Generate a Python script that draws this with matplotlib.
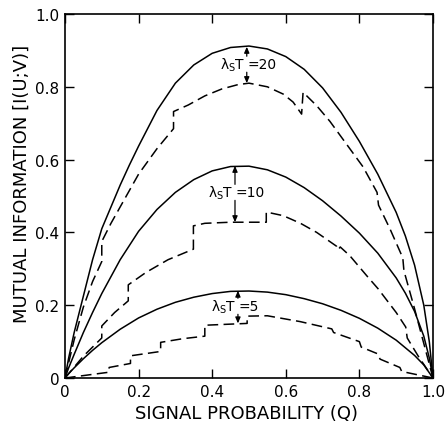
import matplotlib
matplotlib.use("Agg")
import matplotlib.pyplot as plt

# values
# lambda_S T = 20
q_s20 = [0, 0.01, 0.025, 0.05, 0.075, 0.1, 0.125, 0.15, 0.175, 0.2, 0.25, 0.3, 0.35, 0.4, 0.45, 0.5,
         0.55, 0.6, 0.65, 0.7, 0.75, 0.8, 0.85, 0.9, 0.925, 0.95, 0.975, 0.99, 1.0]
i_s20 = [0, 0.055, 0.125, 0.225, 0.325, 0.41, 0.47, 0.53, 0.585, 0.637, 0.735, 0.81, 0.86, 0.892, 0.908, 0.912,
         0.904, 0.883, 0.848, 0.797, 0.73, 0.65, 0.56, 0.455, 0.39, 0.31, 0.2, 0.1, 0]
q_d20 = [0, 0.025, 0.05, 0.075, 0.1, 0.1, 0.125, 0.15, 0.2, 0.25, 0.295, 0.295, 0.335, 0.38, 0.426,
         0.47, 0.5, 0.55, 0.593, 0.62, 0.643, 0.647, 0.684, 0.72, 0.774, 0.81, 0.848, 0.852, 0.883,
         0.918, 0.921, 0.95, 0.975, 1.0]
i_d20 = [0, 0.105, 0.195, 0.265, 0.32, 0.375, 0.425, 0.47, 0.56, 0.63, 0.685, 0.732, 0.75, 0.775, 0.794,
         0.806, 0.81, 0.80, 0.78, 0.758, 0.725, 0.785, 0.748, 0.705, 0.63, 0.58, 0.51, 0.475, 0.41,
         0.33, 0.295, 0.19, 0.095, 0]

# lambda_S T = 10
q_s10 = [0, 0.01, 0.025, 0.05, 0.075, 0.1, 0.15, 0.2, 0.25, 0.3, 0.35, 0.4, 0.45, 0.5, 0.55, 0.6,
         0.65, 0.7, 0.75, 0.8, 0.85, 0.9, 0.925, 0.95, 0.975, 0.99, 1.0]
i_s10 = [0, 0.028, 0.065, 0.125, 0.18, 0.232, 0.325, 0.403, 0.463, 0.51, 0.545, 0.569, 0.581, 0.582,
         0.572, 0.552, 0.523, 0.487, 0.445, 0.398, 0.343, 0.275, 0.233, 0.183, 0.115, 0.055, 0]
q_d10 = [0, 0.05, 0.1, 0.1, 0.135, 0.172, 0.172, 0.22, 0.28, 0.349, 0.349, 0.38, 0.45, 0.547, 0.547,
         0.593, 0.64, 0.684, 0.738, 0.742, 0.748, 0.774, 0.82, 0.851, 0.9, 0.926, 0.93, 0.96, 1.0]
i_d10 = [0, 0.06, 0.11, 0.143, 0.18, 0.212, 0.256, 0.29, 0.325, 0.354, 0.418, 0.425, 0.428, 0.428, 0.456,
         0.446, 0.425, 0.40, 0.362, 0.352, 0.36, 0.336, 0.281, 0.245, 0.18, 0.14, 0.11, 0.06, 0]

# lambda_S T = 5
q_s5 = [0, 0.01, 0.025, 0.05, 0.075, 0.1, 0.15, 0.2, 0.25, 0.3, 0.35, 0.4, 0.45, 0.5, 0.55, 0.6,
        0.65, 0.7, 0.75, 0.8, 0.85, 0.9, 0.95, 0.975, 1.0]
i_s5 = [0, 0.012, 0.028, 0.053, 0.076, 0.097, 0.134, 0.165, 0.189, 0.208, 0.222, 0.232, 0.238, 0.239,
        0.236, 0.229, 0.218, 0.204, 0.186, 0.164, 0.137, 0.104, 0.062, 0.036, 0]
q_d5 = [0, 0.06, 0.12, 0.12, 0.178, 0.178, 0.26, 0.26, 0.32, 0.38, 0.38, 0.495, 0.495, 0.55, 0.639,
        0.725, 0.73, 0.80, 0.805, 0.851, 0.856, 0.91, 0.915, 1.0]
i_d5 = [0, 0.008, 0.016, 0.029, 0.04, 0.061, 0.073, 0.098, 0.108, 0.115, 0.145, 0.15, 0.17, 0.171, 0.155,
        0.135, 0.125, 0.10, 0.085, 0.066, 0.052, 0.029, 0.018, 0]

# arrows between the two curves of each pair, and their labels
arrow_q = [0.494, 0.462, 0.47]
arrow_top = [0.91, 0.583, 0.24]
arrow_bot = [0.81, 0.428, 0.15]
label_mid = [0.862, 0.51, 0.197]
labels = ["20", "10", "5"]

fig = plt.figure(figsize=(4.45, 4.31), dpi=100)
ax = fig.add_axes([0.146, 0.1206, 0.827, 0.8446])

solid_kw = dict(color="black", lw=1.1)
dash_kw = dict(color="black", lw=1.1, ls=(0, (7, 3.5)))
for q, v in [(q_s20, i_s20), (q_s10, i_s10), (q_s5, i_s5)]:
    ax.plot(q, v, **solid_kw)
for q, v in [(q_d20, i_d20), (q_d10, i_d10), (q_d5, i_d5)]:
    ax.plot(q, v, **dash_kw)

ap = dict(arrowstyle="-|>,head_length=0.35,head_width=0.15", color="black", lw=0.9,
          shrinkA=0, shrinkB=0)
for xq, top, bot, mid, lab in zip(arrow_q, arrow_top, arrow_bot, label_mid, labels):
    gap = 0.022
    ax.annotate("", xy=(xq, top), xytext=(xq, mid + gap), arrowprops=ap)
    ax.annotate("", xy=(xq, bot), xytext=(xq, mid - gap), arrowprops=ap)
    ax.text(xq - 0.004, mid, r"$\mathregular{\lambda_S}$T", ha="right", va="center", fontsize=10)
    ax.text(xq + 0.002, mid, "=" + lab, ha="left", va="center", fontsize=10)

ax.set_xlim(0, 1)
ax.set_ylim(0, 1)
ticks = [0, 0.2, 0.4, 0.6, 0.8, 1.0]
tick_labels = ["0", "0.2", "0.4", "0.6", "0.8", "1.0"]
ax.set_xticks(ticks)
ax.set_xticklabels(tick_labels)
ax.set_yticks(ticks)
ax.set_yticklabels(tick_labels)
ax.tick_params(direction="in", length=6.5, width=1.0, top=True, right=True,
               labelsize=11, pad=4)
for s in ax.spines.values():
    s.set_linewidth(1.2)

ax.set_xlabel("SIGNAL PROBABILITY (Q)", fontsize=13)
ax.set_ylabel("MUTUAL INFORMATION [I(U;V)]", fontsize=13)
ax.xaxis.set_label_coords(0.492, -0.072)
ax.yaxis.set_label_coords(-0.092, 0.535)

fig.savefig("out.png", dpi=100)
